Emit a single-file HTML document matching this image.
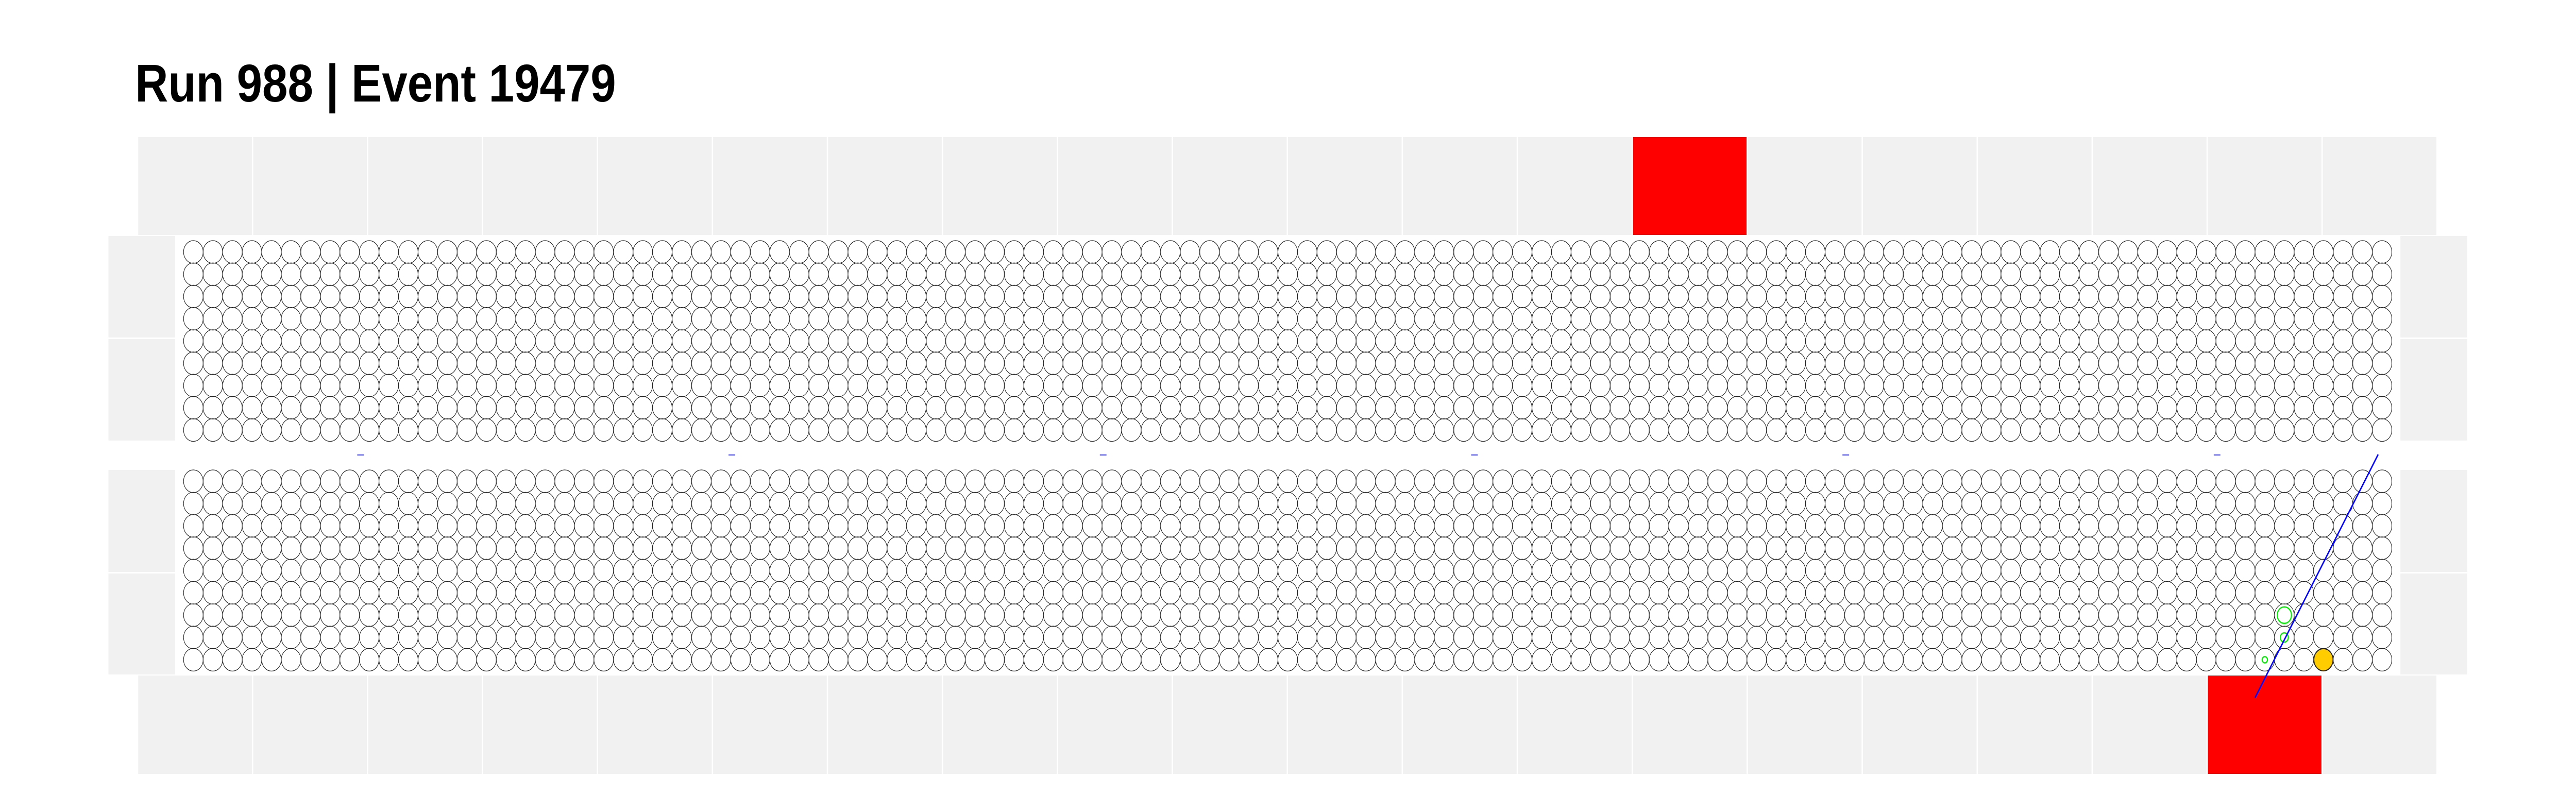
<!DOCTYPE html>
<html><head><meta charset="utf-8"><style>
html,body{margin:0;padding:0;background:#fff;width:100%;height:100%;overflow:hidden;}
svg{display:block;overflow:hidden;width:100vw;height:100vh;}
</style></head><body>
<svg id="chart" xmlns="http://www.w3.org/2000/svg" viewBox="0 0 5796 1572" preserveAspectRatio="none">
<rect x="0" y="0" width="5796" height="1572" fill="#fff"/>
<text x="304" y="197" font-family="Liberation Sans, sans-serif" font-weight="bold" font-size="103" fill="#000">Run 988 | Event 19479</text>
<g id="strips"></g><g id="panels"></g><g id="grid"></g><g id="marks"></g>
</svg>
<script>
const NS='http://www.w3.org/2000/svg';
// data
const nCols=113;
const nRows=9;
const nCells=20;
const topHitCells=[13];
const bottomHitCells=[18];
const dashCols=[8,27,46,65,84,103];
const greenHits=[[107,6,16],[107,7,9],[106,8,6]]; // [col,row(bottom grid),radius]
const orangeHits=[[109,8,21]];
const trackStart=[105.5,9.7];
const trackEnd=[111.8,-1.2];

// axes
const colX=c=>435+c*43.97;
const topRowY=r=>489+r*43.2;
const botRowY=r=>934+r*43.3;
const cellX=i=>311+i*258.7;

function el(tag,attrs,parent){const e=document.createElementNS(NS,tag);for(const k in attrs)e.setAttribute(k,attrs[k]);parent.appendChild(e);return e;}
const strips=document.getElementById('strips');
const panels=document.getElementById('panels');
const grid=document.getElementById('grid');
const marks=document.getElementById('marks');

for(let i=0;i<nCells;i++){
  const t=el('rect',{x:cellX(i),y:266,width:255.7,height:190,fill:topHitCells.includes(i)?'#ff0000':'#f1f1f1'},strips);
  
  
  const b=el('rect',{x:cellX(i),y:1311,width:255.7,height:191,fill:bottomHitCells.includes(i)?'#ff0000':'#f1f1f1'},strips);
  
  
}
[[458,655],[658,855],[912,1110],[1113,1309]].forEach(([y0,y1])=>{
  const l=el('rect',{x:244,y:y0,width:150,height:y1-y0,fill:'#f1f1f1'},panels);
  
  
  const r=el('rect',{x:5401,y:y0,width:150,height:y1-y0,fill:'#f1f1f1'},panels);
  
  
});
for(let r=0;r<nRows;r++){for(let c=0;c<nCols;c++){
  const a=el('circle',{cx:colX(c),cy:topRowY(r),r:22,fill:'none',stroke:'#222','stroke-width':1.2},grid);
  
  
  const b=el('circle',{cx:colX(c),cy:botRowY(r),r:22,fill:'none',stroke:'#222','stroke-width':1.2},grid);
  
  
}}
dashCols.forEach(c=>{
  const d=el('line',{x1:colX(c)+17,x2:colX(c)+32,y1:883,y2:883,stroke:'#0000ff','stroke-width':1.5},marks);
  
  
});
orangeHits.forEach(([c,r,rad])=>{
  const o=el('circle',{cx:colX(c),cy:botRowY(r),r:rad,fill:'#ffcc00',stroke:'#222','stroke-width':1},marks);
  
  
});
greenHits.forEach(([c,r,rad])=>{
  const g=el('circle',{cx:colX(c),cy:botRowY(r),r:rad,fill:'none',stroke:'#00ee00','stroke-width':2.5},marks);
  
  
});
const tr=el('line',{x1:colX(trackStart[0]),y1:botRowY(trackStart[1]),x2:colX(trackEnd[0]),y2:botRowY(trackEnd[1]),stroke:'#0000ff','stroke-width':3},marks);


</script>
</body></html>
